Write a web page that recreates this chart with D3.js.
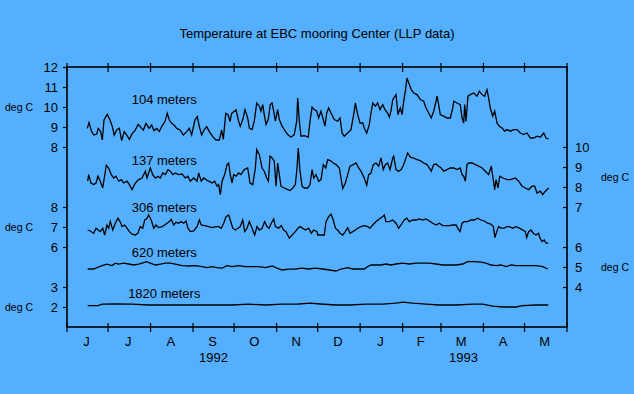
<!DOCTYPE html>
<html>
<head>
<meta charset="utf-8">
<script src="https://cdn.jsdelivr.net/npm/d3@7"></script>
<style>
  html, body { margin: 0; padding: 0; background: #55afff; }
</style>
</head>
<body>
<div id="chart"></div>
<script>
// days after 1 June 1992, temperatures in deg C
const days104 = [14.8,16.1,18.0,19.7,21.7,22.8,24.6,25.8,27.0,29.4,31.4,33.1,34.5,36.3,38.2,39.9,41.8,43.6,45.5,47.7,
  49.6,52.0,54.5,55.7,57.7,59.9,61.8,63.5,65.5,67.4,69.1,71.5,73.2,74.7,76.4,78.1,80.1,82.5,84.9,87.4,
  89.3,91.0,93.4,95.1,96.6,98.3,100.0,102.0,103.9,106.4,108.8,111.2,112.9,114.1,115.9,117.7,119.0,120.2,121.9,123.4,
  125.3,126.5,128.3,129.9,131.9,133.1,135.1,136.7,138.5,140.4,141.6,142.9,144.0,145.3,146.9,148.4,149.7,150.9,152.1,153.8,
  155.0,157.0,158.6,161.1,163.5,165.9,167.7,168.4,169.6,170.8,173.2,176.1,177.4,178.9,180.5,182.3,183.7,185.4,187.1,188.3,
  189.6,191.0,192.7,195.1,197.6,199.3,200.8,202.4,204.9,207.3,209.7,210.5,212.2,213.9,215.9,217.0,218.8,220.7,221.9,223.2,
  225.1,226.8,228.5,230.5,232.1,234.1,235.3,236.5,237.8,238.5,240.2,241.6,243.3,244.6,245.8,247.0,248.2,249.9,251.3,253.1,
  255.5,257.9,260.4,262.1,264.0,265.9,267.7,269.4,270.1,271.3,272.5,275.0,277.4,279.8,281.6,282.3,284.7,287.1,288.4,289.6,
  290.3,291.3,292.7,294.4,296.9,299.3,301.0,303.0,304.9,306.6,307.8,309.0,310.8,312.2,313.9,315.6,317.6,319.5,321.2,323.6,
  326.1,328.5,330.9,333.4,335.8,338.2,340.7,343.1,345.5,348.0,349.7,351.6];
const temp104 = [8.93,9.22,8.77,8.60,8.65,8.93,8.77,8.35,9.35,9.63,9.35,9.02,8.60,8.85,8.93,8.32,8.77,8.60,8.38,8.68,
  8.82,9.13,8.93,8.85,9.18,8.93,9.10,8.82,8.93,8.77,9.02,9.27,9.68,9.35,9.18,9.10,8.93,8.85,8.60,8.77,
  8.93,8.60,9.35,9.52,9.02,8.60,8.85,9.02,8.77,8.52,8.35,8.35,8.85,8.38,9.68,9.60,9.27,9.68,9.77,9.85,
  9.29,9.04,9.37,9.87,9.45,8.95,8.87,9.29,10.20,10.04,9.79,10.12,9.62,9.12,9.37,10.12,10.20,9.79,9.29,9.87,
  9.37,9.04,8.87,8.62,8.49,8.62,9.29,10.45,9.29,8.54,8.57,8.50,9.29,9.99,9.87,9.79,9.45,9.79,9.37,9.04,
  9.70,9.95,9.70,9.37,9.29,9.45,8.70,8.54,8.70,8.87,9.79,10.20,9.62,9.20,9.20,8.95,8.70,9.12,9.70,10.20,
  10.04,10.20,9.87,10.12,9.87,9.70,9.49,9.79,10.37,10.45,10.62,9.62,9.95,9.62,10.29,10.79,11.45,11.12,10.87,10.70,
  10.62,10.37,10.29,9.95,9.70,9.45,9.79,10.29,10.54,10.12,9.62,9.54,9.45,9.45,9.95,10.29,10.20,10.12,9.45,9.20,
  10.12,9.29,10.54,10.62,10.70,10.54,10.79,10.62,10.54,10.87,10.45,9.95,9.54,9.79,9.20,9.04,8.95,8.79,8.87,8.79,
  8.87,8.87,8.70,8.62,8.70,8.45,8.45,8.54,8.49,8.70,8.45,8.40];

const days137 = [15.1,15.8,17.5,19.5,21.2,22.6,24.3,26.1,27.2,28.7,30.4,32.3,34.1,35.8,37.7,39.6,41.4,43.8,45.5,47.5,
  49.9,52.3,54.8,57.2,58.4,60.8,62.6,64.5,66.4,68.1,69.9,71.8,73.7,75.4,77.2,79.1,81.5,84.0,86.4,88.3,
  90.0,92.5,94.9,96.1,98.0,99.8,101.5,103.4,105.9,107.8,109.5,110.7,111.9,113.2,115.1,116.8,118.0,119.2,120.5,121.7,
  123.4,125.3,127.0,129.4,131.9,133.6,135.6,137.5,138.5,140.4,142.4,144.0,145.8,147.0,148.2,149.7,151.3,152.6,153.8,155.0,
  156.2,158.6,161.1,162.8,164.8,166.7,167.9,168.8,170.1,171.6,173.2,175.7,177.4,178.9,180.1,181.8,183.7,185.4,187.1,188.9,
  190.3,192.2,194.4,196.4,198.8,200.0,201.3,203.2,204.9,206.6,209.0,211.0,212.9,214.6,217.0,218.8,220.2,221.9,223.6,225.6,
  227.5,229.2,230.9,232.4,234.1,235.8,237.8,238.5,240.2,242.1,244.0,245.8,247.0,248.7,250.6,253.1,255.5,257.9,260.4,262.8,
  264.5,265.9,267.7,269.4,271.3,273.2,275.0,277.4,279.8,282.3,284.7,287.1,288.4,289.6,290.8,292.0,293.2,295.7,298.1,300.5,
  303.0,305.4,307.8,309.7,311.0,312.2,313.2,314.6,315.9,318.3,321.2,323.6,327.3,329.7,332.2,334.6,337.0,339.4,341.4,343.1,
  345.5,347.3,349.2,351.6];
const temp137 = [8.29,8.62,8.20,8.12,8.20,8.54,8.29,7.95,8.45,9.09,8.95,8.62,8.45,8.54,8.29,8.37,8.20,8.29,8.12,7.87,
  8.20,8.37,8.45,8.79,8.45,8.95,8.62,8.45,8.54,8.45,8.70,8.62,8.87,8.79,8.62,8.70,8.62,8.65,8.45,8.54,
  8.29,8.45,8.29,8.70,8.29,8.45,8.37,8.29,8.20,8.29,8.04,8.12,7.62,8.29,8.62,9.12,9.20,8.62,8.20,8.62,
  8.54,8.70,8.62,8.87,8.95,8.20,8.12,8.95,9.87,9.62,8.95,8.79,8.45,8.29,9.54,9.45,9.29,8.04,9.20,8.62,
  8.04,7.95,7.87,7.82,7.95,8.12,8.95,9.95,8.79,8.04,7.95,7.95,8.12,8.87,8.45,8.62,8.29,8.37,9.12,8.95,
  9.37,9.32,9.20,9.12,8.95,8.45,7.92,8.20,8.62,9.04,9.12,9.20,8.95,8.79,8.45,8.09,8.62,8.70,9.12,9.20,
  9.04,9.45,8.87,9.12,9.20,8.87,9.45,9.54,8.87,8.79,8.87,9.12,9.37,9.70,9.49,9.45,9.37,9.32,9.20,9.12,
  8.95,8.79,9.12,9.15,9.04,8.95,8.79,8.87,8.95,8.95,8.87,8.95,8.62,8.54,8.29,9.12,9.20,9.20,9.12,9.04,
  8.95,8.79,8.62,9.04,8.45,7.87,8.37,7.95,8.54,8.45,8.37,8.37,8.45,8.29,8.04,7.95,7.87,8.04,8.04,7.70,
  7.79,7.62,7.79,7.95];

const days306 = [15.1,17.0,19.5,21.2,22.8,24.3,26.1,27.5,29.2,30.4,31.6,33.4,35.3,37.2,38.7,40.2,42.1,43.8,45.5,47.5,
  49.9,51.8,53.5,55.3,56.7,58.4,59.6,61.5,63.3,65.0,66.9,69.4,71.3,73.0,74.7,76.1,77.9,79.6,81.5,83.4,
  85.2,86.9,88.3,90.0,92.5,94.9,96.6,98.0,100.5,103.4,106.4,108.3,110.7,112.6,114.4,116.1,118.0,119.2,121.0,122.9,
  124.8,126.5,128.3,129.7,131.4,133.1,135.1,137.0,138.7,140.4,142.4,144.3,146.0,147.5,149.1,150.9,152.1,154.5,156.4,158.2,
  159.9,162.3,164.3,166.7,168.6,170.3,172.1,174.0,176.4,178.3,180.1,182.5,183.0,185.4,187.8,189.1,191.0,192.7,194.4,195.9,
  197.6,199.3,201.3,203.2,204.9,206.6,208.6,210.5,212.2,214.6,217.0,219.5,221.2,223.2,225.6,228.0,230.5,231.6,232.9,235.3,
  237.8,240.2,242.1,243.8,246.2,248.0,249.9,252.4,254.8,257.2,259.7,262.1,264.5,267.0,269.4,271.8,274.3,276.7,279.1,281.6,
  284.0,286.0,286.9,288.4,290.0,292.5,294.9,297.3,299.8,302.2,304.6,307.1,309.5,311.2,312.4,313.7,315.1,316.8,319.2,321.0,
  322.9,325.4,327.8,330.2,332.7,334.6,335.6,337.0,338.7,340.4,342.4,344.3,345.3,346.8,348.4,349.7,351.3];
const temp306 = [6.85,6.80,6.69,6.94,6.85,6.77,6.94,6.60,7.10,6.94,7.27,6.85,7.19,7.44,7.27,7.02,7.10,6.94,6.77,6.64,
  6.60,6.69,7.02,6.94,7.35,7.44,7.60,7.35,6.94,7.10,6.97,7.02,7.10,7.19,7.27,7.39,7.10,7.24,7.19,7.27,
  7.19,7.30,6.94,6.77,6.80,7.02,7.35,7.10,7.07,7.02,6.97,7.02,7.02,6.94,7.19,7.52,7.60,7.35,6.94,6.85,
  6.94,7.02,7.35,6.77,6.94,7.27,6.94,6.60,7.02,6.85,6.94,7.27,7.02,6.94,7.19,7.40,7.02,6.94,7.07,6.85,
  6.77,6.44,6.60,6.77,6.94,7.02,6.94,6.85,6.94,6.69,6.85,6.77,6.60,6.60,6.60,7.27,7.52,7.64,7.35,6.94,
  6.85,6.69,6.60,6.77,6.97,6.69,6.77,6.85,6.94,7.02,7.07,7.02,6.94,7.10,7.27,7.40,7.52,7.60,7.27,7.27,
  7.35,7.19,6.94,7.10,7.35,7.44,7.27,7.35,7.35,7.40,7.35,7.40,7.30,7.19,7.10,7.19,7.07,7.07,7.07,7.10,
  7.10,6.85,6.77,7.19,7.27,7.27,7.35,7.35,7.44,7.35,7.30,7.19,7.14,7.02,6.47,6.77,7.02,6.94,6.94,7.02,
  7.02,6.94,7.02,6.94,6.85,6.77,6.47,6.77,6.85,6.69,6.60,6.69,6.44,6.27,6.35,6.19,6.19];

const days620 = [15.1,19.5,21.9,25.6,29.2,32.9,35.3,37.7,41.4,45.0,48.7,52.3,56.0,57.9,60.8,64.5,68.1,71.8,75.4,79.1,
  84.0,88.8,93.7,98.6,102.2,105.9,109.5,113.2,116.8,120.5,125.3,130.2,135.1,139.9,144.8,149.7,153.3,157.0,161.8,166.7,
  171.6,176.4,181.3,186.7,191.5,196.4,200.0,204.9,208.6,213.4,217.0,219.5,221.9,225.6,229.2,232.9,236.5,240.2,245.1,249.9,
  254.8,259.7,264.5,269.4,274.3,279.1,284.0,288.9,292.5,297.3,302.2,305.9,309.5,313.2,316.8,320.5,324.1,327.8,332.7,337.5,
  342.4,347.3,350.9];
const temp620 = [4.90,4.90,4.97,5.07,5.14,5.07,5.19,5.14,5.19,5.15,5.10,5.14,5.22,5.27,5.19,5.10,5.14,5.19,5.19,5.14,
  5.07,5.05,5.07,5.02,4.97,5.02,4.97,4.94,5.07,5.02,5.07,5.02,5.02,5.02,4.97,5.05,4.94,4.85,4.89,4.90,
  4.94,4.90,4.94,4.90,4.85,4.80,4.90,4.97,4.90,4.90,4.90,5.02,5.10,5.10,5.10,5.15,5.10,5.15,5.19,5.15,
  5.19,5.19,5.19,5.15,5.10,5.10,5.10,5.15,5.27,5.27,5.24,5.19,5.10,5.07,5.10,5.02,5.10,5.07,5.07,5.07,
  5.07,5.02,4.90];

const days1820 = [15.1,22.8,25.6,35.3,47.5,59.6,71.8,84.0,96.1,108.3,120.5,132.6,144.8,157.0,169.1,177.6,184.9,196.4,206.1,218.3,
  230.5,240.2,245.1,252.4,262.1,271.8,284.0,296.2,303.5,310.8,318.1,327.8,332.7,342.4,351.3];
const temp1820 = [2.07,2.07,2.14,2.15,2.14,2.10,2.10,2.10,2.10,2.10,2.10,2.14,2.10,2.14,2.15,2.19,2.15,2.10,2.10,2.14,
  2.14,2.19,2.24,2.19,2.14,2.10,2.10,2.14,2.14,2.04,2.00,2.00,2.07,2.10,2.10];

const monthLabels = ["J", "J", "A", "S", "O", "N", "D", "J", "F", "M", "A", "M"];
const yearLabels = ["1992", "1993"];
const ticks104 = [8, 9, 10, 11, 12];
const ticks137 = [7, 8, 9, 10];
const ticks306 = [6, 7, 8];
const ticks620 = [4, 5, 6];
const ticks1820 = [2, 3];

const width = 634, height = 394;
const frame = { left: 67, right: 567, top: 67, bottom: 327 };
const font = "'Liberation Sans', Arial, Helvetica, sans-serif";

const svg = d3.select("#chart")
    .append("svg")
    .attr("width", width)
    .attr("height", height)
    .style("display", "block");

svg.append("rect")
    .attr("width", width)
    .attr("height", height)
    .attr("fill", "#55afff");

const start = new Date(1992, 5, 1);
const end = new Date(1993, 5, 1);
const toDate = d => new Date(start.getTime() + d * 864e5);

const x = d3.scaleTime()
    .domain([start, end])
    .range([frame.left, frame.right]);

// every series gets its own 13-degree window, stacked on the same 20px/degree grid
const yWindow = top => d3.scaleLinear()
    .domain([top - 13, top])
    .range([frame.bottom, frame.top]);

const series = [
    { label: "104 meters", days: days104, temps: temp104, y: yWindow(12), side: "left", ticks: ticks104, labelAt: 10.15, unitAt: 10 },
    { label: "137 meters", days: days137, temps: temp137, y: yWindow(14), side: "right", ticks: ticks137, labelAt: 9.09, unitAt: 8.5 },
    { label: "306 meters", days: days306, temps: temp306, y: yWindow(15), side: "left", ticks: ticks306, labelAt: 7.77, unitAt: 7 },
    { label: "620 meters", days: days620, temps: temp620, y: yWindow(15), side: "right", ticks: ticks620, labelAt: 5.52, unitAt: 5 },
    { label: "1820 meters", days: days1820, temps: temp1820, y: yWindow(14), side: "left", ticks: ticks1820, labelAt: 2.47, unitAt: 2 }
];

// title
svg.append("text")
    .attr("x", 317)
    .attr("y", 38)
    .attr("text-anchor", "middle")
    .attr("font-family", font)
    .attr("font-size", 13)
    .text("Temperature at EBC mooring Center (LLP data)");

// frame
svg.append("rect")
    .attr("x", frame.left)
    .attr("y", frame.top)
    .attr("width", frame.right - frame.left)
    .attr("height", frame.bottom - frame.top)
    .attr("fill", "none")
    .attr("stroke", "#000")
    .attr("stroke-width", 1.6);

// month ticks on top and bottom edges
const monthStarts = d3.timeMonth.range(start, d3.timeDay.offset(end, 1));
[frame.top, frame.bottom].forEach(yy => {
    svg.append("g")
        .selectAll("line")
        .data(monthStarts)
        .enter().append("line")
        .attr("x1", d => x(d))
        .attr("x2", d => x(d))
        .attr("y1", yy - 4)
        .attr("y2", yy + 5)
        .attr("stroke", "#000")
        .attr("stroke-width", 1.2);
});

// month letters, centred in each month
svg.append("g")
    .selectAll("text")
    .data(monthLabels)
    .enter().append("text")
    .attr("x", (d, i) => (x(monthStarts[i]) + x(monthStarts[i + 1])) / 2 - 1)
    .attr("y", 346)
    .attr("text-anchor", "middle")
    .attr("font-family", font)
    .attr("font-size", 13)
    .text(d => d);

// year labels, centred on the part of each year that is shown
const yearSpans = [[start, new Date(1993, 0, 1)], [new Date(1993, 0, 1), end]];
svg.append("g")
    .selectAll("text")
    .data(yearLabels)
    .enter().append("text")
    .attr("x", (d, i) => (x(yearSpans[i][0]) + x(yearSpans[i][1])) / 2)
    .attr("y", 362)
    .attr("text-anchor", "middle")
    .attr("font-family", font)
    .attr("font-size", 13)
    .text(d => d);

// temperature axes
series.forEach(s => {
    const axis = s.side === "left"
        ? d3.axisLeft(s.y).tickValues(s.ticks).tickSize(4).tickPadding(5)
        : d3.axisRight(s.y).tickValues(s.ticks).tickSize(-4).tickPadding(8);

    const g = svg.append("g")
        .attr("transform", `translate(${s.side === "left" ? frame.left : frame.right},0)`)
        .call(axis)
        .attr("font-family", font)
        .attr("font-size", 13);
    g.select(".domain").remove();
    g.selectAll(".tick line").attr("stroke-width", 1.2);

    // the unit label is set narrow, as in the original
    svg.append("text")
        .attr("x", s.side === "left" ? 5 : 601)
        .attr("y", s.y(s.unitAt))
        .attr("dy", "0.35em")
        .attr("font-family", font)
        .attr("font-size", 11.5)
        .attr("textLength", 28)
        .attr("lengthAdjust", "spacingAndGlyphs")
        .text("deg C");
});

// temperature traces
series.forEach(s => {
    const line = d3.line()
        .x((d, i) => x(toDate(s.days[i])))
        .y(d => s.y(d));

    svg.append("path")
        .datum(s.temps)
        .attr("fill", "none")
        .attr("stroke", "#000")
        .attr("stroke-width", 1.3)
        .attr("stroke-linejoin", "miter")
        .attr("d", line);

    svg.append("text")
        .attr("x", x(new Date(1992, 7, 11)))
        .attr("y", s.y(s.labelAt))
        .attr("text-anchor", "middle")
        .attr("font-family", font)
        .attr("font-size", 13)
        .text(s.label);
});
</script>
</body>
</html>
